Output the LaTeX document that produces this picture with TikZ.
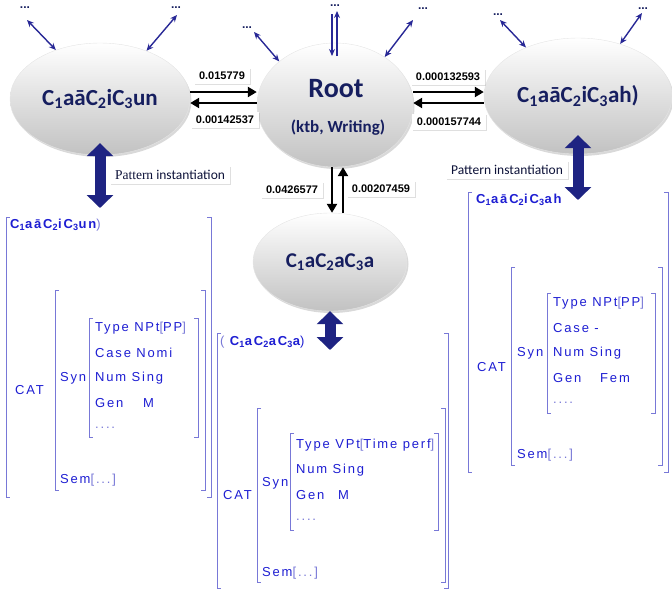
\documentclass[tikz,border=0pt]{standalone}
\usepackage{fontspec}
\usepackage{tikz}
\usetikzlibrary{shapes.geometric,arrows.meta,shadows}

\newfontfamily\calfont{Carlito}
\newfontfamily\avmfont[LetterSpace=14]{Liberation Sans}
\newfontfamily\numfont{Liberation Sans}
\newfontfamily\serfont{Liberation Serif}

\definecolor{navy}{RGB}{22,30,95}
\definecolor{thinblue}{RGB}{40,40,150}
\definecolor{fatblue}{RGB}{30,35,130}
\definecolor{avmblue}{RGB}{30,30,210}
\definecolor{brkblue}{RGB}{120,120,215}

\newcommand{\brc}[1]{\textcolor{brkblue}{#1}}
\newcommand{\avmbr}[4]{%
  \draw[brk] (#1+4,#2) -- (#1,#2) -- (#1,#4) -- (#1+4,#4);
  \draw[brk] (#3-4,#2) -- (#3,#2) -- (#3,#4) -- (#3-4,#4);}

\begin{document}
\begin{tikzpicture}[x=1pt,y=-1pt,
  blob/.style={ellipse,inner sep=0pt,top color=white,bottom color=black!24,draw=black!10,
    drop shadow={opacity=0.3,shadow xshift=1.5pt,shadow yshift=-2pt},text=navy,font=\calfont\bfseries},
  numbox/.style={fill=white,inner xsep=5pt,inner ysep=4pt,
    drop shadow={opacity=0.25,shadow xshift=1pt,shadow yshift=-1pt},font=\numfont\bfseries\fontsize{11}{13}\selectfont},
  patbox/.style={fill=white,inner xsep=5pt,inner ysep=4pt,
    drop shadow={opacity=0.25,shadow xshift=1pt,shadow yshift=-1pt},text=navy!60!black,font=\calfont\fontsize{13.5}{15}\selectfont},
  dotsnode/.style={anchor=base,inner sep=0pt,text=navy,font=\numfont\bfseries\fontsize{12}{12}\selectfont},
  thinlink/.style={{Stealth[length=7pt,width=6pt]}-{Stealth[length=7pt,width=6pt]},draw=thinblue,line width=1.4pt},
  onelink/.style={-{Stealth[length=7pt,width=6pt]},draw=thinblue,line width=1.4pt},
  flowarrow/.style={-{Triangle[length=9pt,width=10pt]},line width=2.8pt},
  fatarrow/.style={{Triangle[length=13pt,width=26pt]}-{Triangle[length=13pt,width=26pt]},draw=fatblue,line width=11pt},
  avm/.style={anchor=west,inner sep=0pt,text=avmblue,font=\avmfont\fontsize{13}{15}\selectfont},
  avmhead/.style={avm,font=\avmfont\bfseries\fontsize{13}{15}\selectfont},
  brk/.style={draw=brkblue,line width=0.8pt}]
\useasboundingbox (0,0) rectangle (672,595);

\begin{scope}[every node/.style={blob}]
    \node[minimum width=180pt,minimum height=112pt] (lft) at (100,99)
      {\fontsize{23}{26}\selectfont C\textsubscript{1}aāC\textsubscript{2}iC\textsubscript{3}un};
    \node[minimum width=156pt,minimum height=124pt] (root) at (335,105) {};
    \node[minimum width=188pt,minimum height=116pt] (rgt) at (578,96)
      {\fontsize{23}{26}\selectfont C\textsubscript{1}aāC\textsubscript{2}iC\textsubscript{3}ah)};
    \node[minimum width=154pt,minimum height=98pt] (bot) at (330,262)
      {\fontsize{21}{24}\selectfont C\textsubscript{1}aC\textsubscript{2}aC\textsubscript{3}a};
\end{scope}
\node[text=navy,font=\calfont\bfseries\fontsize{28}{30}\selectfont] (rootname) at (336,89) {Root};
\node[text=navy,font=\calfont\bfseries\fontsize{17}{20}\selectfont] (rootsub) at (338,128) {(ktb, Writing)};

\node[dotsnode] (d1) at (25,8) {...};
\node[dotsnode] (d2) at (176,8) {...};
\node[dotsnode] (d3) at (247,28) {...};
\node[dotsnode] (d4) at (335,6) {...};
\node[dotsnode] (d5) at (423,9) {...};
\node[dotsnode] (d6) at (498,15) {...};
\node[dotsnode] (d7) at (643,9) {...};

\coordinate (a1) at (27,20);
\coordinate (a2) at (177,15);
\coordinate (a3) at (254,32);
\coordinate (a4) at (413,20);
\coordinate (a5) at (500,20);
\coordinate (a6) at (642,13);
\coordinate (t1) at (332,14);
\coordinate (t2) at (332,56);
\coordinate (t3) at (337,56);
\coordinate (t4) at (337,11);

\draw[thinlink] (a1) -- (lft.132);
\draw[thinlink] (a2) -- (lft.46);
\draw[thinlink] (a3) -- (root.142);
\draw[thinlink] (a4) -- (root.44);
\draw[thinlink] (a5) -- (rgt.137);
\draw[thinlink] (a6) -- (rgt.51);
\draw[onelink] (t1) -- (t2);
\draw[onelink] (t3) -- (t4);

\draw[flowarrow] ([yshift=7pt]lft.east) -- ([yshift=7pt]lft.east -| root.west);
\draw[flowarrow] ([yshift=-4pt]lft.east -| root.west) -- ([yshift=-4pt]lft.east);
\draw[flowarrow] ([yshift=13pt]root.east) -- ([yshift=13pt]root.east -| rgt.west);
\draw[flowarrow] ([yshift=2pt]root.east -| rgt.west) -- ([yshift=2pt]root.east);
\draw[flowarrow] ([xshift=-3pt]root.south) -- ([xshift=-3pt]root.south |- bot.north);
\draw[flowarrow] ([xshift=8pt]root.south |- bot.north) -- ([xshift=8pt]root.south);

\begin{scope}[every node/.style={numbox}]
    \node (n1) at (222,76) {0.015779};
    \node (n2) at (225,120) {0.00142537};
    \node (n3) at (448,77) {0.000132593};
    \node (n4) at (449,122) {0.000157744};
    \node (n5) at (292,190) {0.0426577};
    \node (n6) at (381,189) {0.00207459};
\end{scope}

\coordinate (lpi) at (100,208);
\coordinate (rpi) at (578,200);
\coordinate (bpi) at (330,350);
\draw[fatarrow] ([yshift=12pt]lft.south) -- (lpi);
\draw[fatarrow] ([yshift=19pt]rgt.south) -- (rpi);
\draw[fatarrow] (bot.south) -- (bpi);
\node[patbox] (pl) at (170,175) {{\serfont Pattern} instantiation};
\node[patbox] (pr) at (507,170) {Pattern instantiation};

% left feature structure
\avmbr{6}{217}{211}{497}
\avmbr{55}{290}{205}{490}
\avmbr{89}{318}{198}{437}
\node[avmhead] (lt) at (10,225) {C\textsubscript{1}aāC\textsubscript{2}iC\textsubscript{3}un\brc{\mdseries)}};
\node[avm] (lcat) at (15,390) {CAT};
\node[avm] (lsyn) at (60,378) {Syn};
\node[avm] (l1) at (95,328) {Type NPt\brc{[}PP\brc{]}};
\node[avm] (l2) at (95,353) {Case Nomi};
\node[avm] (l3) at (95,378) {Num Sing};
\node[avm] (l4) at (95,403) {\makebox[48pt][l]{Gen}M};
\node[avm] (l5) at (95,428) {\brc{....}};
\node[avm] (lsem) at (60,480) {Sem\brc{[...]}};

% middle feature structure
\avmbr{217}{333}{448}{588}
\avmbr{257}{408}{445}{582}
\avmbr{290}{433}{438}{530}
\node[avmhead] (mt) at (220,342) {\brc{\mdseries(} C\textsubscript{1}aC\textsubscript{2}aC\textsubscript{3}a\mdseries)};
\node[avm] (mcat) at (223,495) {CAT};
\node[avm] (msyn) at (262,483) {Syn};
\node[avm] (m1) at (296,445) {Type VPt\brc{[}Time perf\brc{]}};
\node[avm] (m2) at (296,470) {Num Sing};
\node[avm] (m3) at (296,495) {\makebox[42pt][l]{Gen}M};
\node[avm] (m4) at (296,520) {\brc{....}};
\node[avm] (msem) at (262,573) {Sem\brc{[...]}};

% right feature structure
\avmbr{468}{192}{668}{472}
\avmbr{511}{267}{662}{465}
\avmbr{547}{293}{655}{413}
\node[avmhead] (rt) at (476,200) {C\textsubscript{1}aāC\textsubscript{2}iC\textsubscript{3}ah};
\node[avm] (rcat) at (477,367) {CAT};
\node[avm] (rsyn) at (517,353) {Syn};
\node[avm] (r1) at (553,303) {Type NPt\brc{[}PP\brc{]}};
\node[avm] (r2) at (553,328) {Case -};
\node[avm] (r3) at (553,353) {Num Sing};
\node[avm] (r4) at (553,378) {\makebox[47pt][l]{Gen}Fem};
\node[avm] (r5) at (553,403) {\brc{....}};
\node[avm] (rsem) at (517,455) {Sem\brc{[...]}};

\end{tikzpicture}
\end{document}
